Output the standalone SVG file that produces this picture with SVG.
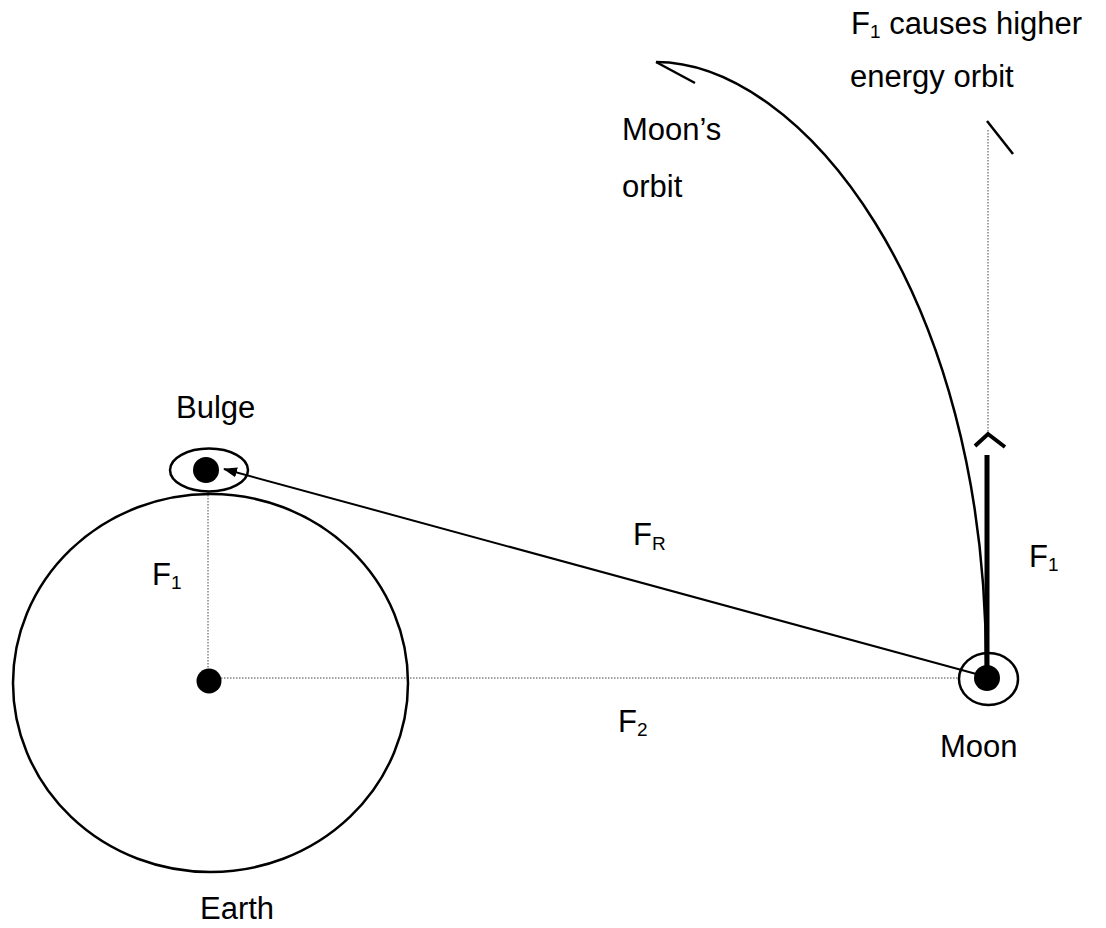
<svg xmlns="http://www.w3.org/2000/svg" width="1106" height="928" viewBox="0 0 1106 928">
<style>
text{font-family:"Liberation Sans",Arial,sans-serif;font-size:31px;fill:#000}
.sub{font-size:19px}
.outline{fill:none;stroke:#000;stroke-width:2.5}
.dot{fill:#000}
.dotted{fill:none;stroke:#444;stroke-width:1;stroke-dasharray:1.5 1.5}
</style>
<defs>
<marker id="arr" markerWidth="14" markerHeight="10" refX="13" refY="5" orient="auto" markerUnits="userSpaceOnUse">
<path d="M0,0 L14,5 L0,10 Z" fill="#000"/>
</marker>
</defs>
<rect width="1106" height="928" fill="#fff"/>
<g id="connectors">
<line class="dotted" x1="209" y1="678" x2="960" y2="678"/>
<line class="dotted" x1="208" y1="492" x2="208" y2="670"/>
<line class="dotted" x1="988" y1="130" x2="988" y2="433"/>
<line x1="980" y1="675" x2="224" y2="469" stroke="#000" stroke-width="2" marker-end="url(#arr)"/>
<line x1="987" y1="455" x2="987" y2="678" stroke="#000" stroke-width="5"/>
<polyline points="975,446 988,434 1005,447" fill="none" stroke="#000" stroke-width="4"/>
<path class="outline" d="M656,62 C800,62 987,290 986,668"/>
<line class="outline" x1="656" y1="62" x2="695" y2="83"/>
<line class="outline" x1="987" y1="121" x2="1013" y2="154"/>
</g>
<g id="earth">
<ellipse class="outline" cx="210.5" cy="683" rx="197.5" ry="189"/>
<circle class="dot" cx="209" cy="681" r="12.5"/>
<text x="200" y="919">Earth</text>
</g>
<g id="bulge">
<ellipse class="outline" cx="209" cy="470" rx="39" ry="21.5"/>
<circle class="dot" cx="206" cy="470" r="13"/>
<text x="176" y="418">Bulge</text>
</g>
<g id="moon">
<ellipse class="outline" cx="988.5" cy="679" rx="29.5" ry="26"/>
<circle class="dot" cx="987" cy="678" r="13"/>
<text x="940" y="757">Moon</text>
</g>
<g id="labels">
<text x="851" y="34">F<tspan class="sub" dy="4">1</tspan><tspan dy="-4"> causes higher</tspan></text>
<text x="850" y="87">energy orbit</text>
<text x="622" y="140">Moon’s</text>
<text x="622" y="197">orbit</text>
<text x="633" y="545">F<tspan class="sub" dy="5">R</tspan></text>
<text x="618" y="732">F<tspan class="sub" dy="4">2</tspan></text>
<text x="152" y="585">F<tspan class="sub" dy="4">1</tspan></text>
<text x="1029" y="567">F<tspan class="sub" dy="4">1</tspan></text>
</g>
</svg>
